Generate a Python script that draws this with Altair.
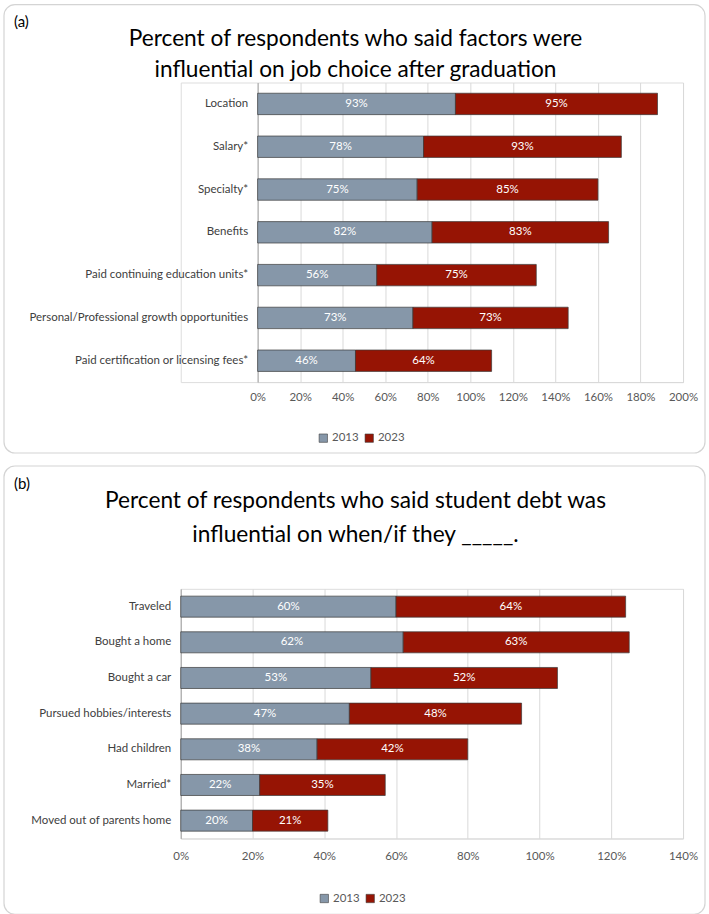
import altair as alt
import pandas as pd

FONT = "Lato"
YEARS = ["2013", "2023"]
COLORS = ["#8697a9", "#961404"]

# Panel (a): factors influencing job choice
factors = [
    "Location",
    "Salary*",
    "Specialty*",
    "Benefits",
    "Paid continuing education units*",
    "Personal/Professional growth opportunities",
    "Paid certification or licensing fees*",
]
factors_2013 = [93, 78, 75, 82, 56, 73, 46]
factors_2023 = [95, 93, 85, 83, 75, 73, 64]
title_a = ["Percent of respondents who said factors were",
           "influential on job choice after graduation"]

# Panel (b): decisions influenced by student debt
debt_items = [
    "Traveled",
    "Bought a home",
    "Bought a car",
    "Pursued hobbies/interests",
    "Had children",
    "Married*",
    "Moved out of parents home",
]
debt_2013 = [60, 62, 53, 47, 38, 22, 20]
debt_2023 = [64, 63, 52, 48, 42, 35, 21]
title_b = ["Percent of respondents who said student debt was",
           "influential on when/if they _____."]

# Both panels share one view origin; panel (a) starts its bars further right.
VIEW_W = 503


def long_table(cats, v2013, v2023):
    rows = []
    for c, a, b in zip(cats, v2013, v2023):
        rows.append({"item": c, "year": "2013", "pct": a})
        rows.append({"item": c, "year": "2023", "pct": b})
    return pd.DataFrame(rows)


def panel(tag, title_lines, cats, v2013, v2023, xmax, x_start, h, pad_inner,
          frame, tag_xy, title_y, legend_xy, tick_pad):
    df = long_table(cats, v2013, v2023)
    base = (
        alt.Chart(df)
        .transform_calculate(order="datum.year == '2013' ? 0 : 1")
        .transform_stack(
            stack="pct",
            groupby=["item"],
            as_=["x0", "x1"],
            sort=[alt.SortField(field="order", order="ascending")],
        )
        .transform_calculate(mid="(datum.x0 + datum.x1) / 2",
                             label="datum.pct + '%'")
    )
    xscale = alt.Scale(domain=[0, xmax], nice=False, zero=True,
                       range=[x_start, VIEW_W])
    yscale = alt.Scale(paddingInner=pad_inner, paddingOuter=pad_inner / 2)

    bars = base.mark_bar(stroke="#3a3a3a", strokeWidth=0.7).encode(
        x=alt.X(
            "x0:Q",
            scale=xscale,
            axis=alt.Axis(
                values=list(range(0, xmax + 1, 20)),
                labelExpr="datum.value + '%'",
                title=None,
                grid=True,
                gridColor="#d9d9d9",
                domainColor="#d9d9d9",
                ticks=False,
                labelPadding=tick_pad,
                labelFontSize=11.5,
                labelColor="#595959",
                labelFont=FONT,
                labelOverlap=False,
                labelFlush=False,
            ),
        ),
        x2="x1:Q",
        y=alt.Y(
            "item:N",
            sort=cats,
            scale=yscale,
            axis=alt.Axis(
                title=None,
                ticks=False,
                offset=-x_start,
                domainColor="#a6a6a6",
                labelPadding=10,
                labelFontSize=11.5,
                labelColor="#404040",
                labelFont=FONT,
                labelLimit=400,
            ),
        ),
        color=alt.Color(
            "year:N",
            scale=alt.Scale(domain=YEARS, range=COLORS),
            legend=alt.Legend(
                title=None,
                orient="none",
                direction="horizontal",
                legendX=legend_xy[0],
                legendY=legend_xy[1],
                symbolType="square",
                symbolSize=70,
                symbolStrokeColor="#404040",
                symbolStrokeWidth=0.6,
                symbolOpacity=1,
                labelFontSize=11.5,
                labelColor="#595959",
                labelFont=FONT,
                columnPadding=4,
                labelOffset=3,
            ),
        ),
    )

    labels = base.mark_text(
        color="white", fontSize=11.5, font=FONT, baseline="middle"
    ).encode(
        x=alt.X("mid:Q", scale=xscale),
        y=alt.Y("item:N", sort=cats, scale=yscale),
        text="label:N",
    )

    one = pd.DataFrame({"k": [0]})
    box = alt.Chart(one).mark_rect(
        fill="white", fillOpacity=0, stroke="#d4d4d4", strokeWidth=1.2,
        cornerRadius=11,
    ).encode(
        x=alt.value(frame[0]), x2=alt.value(frame[1]),
        y=alt.value(frame[2]), y2=alt.value(frame[3]),
    )
    tag_mark = alt.Chart(one).mark_text(
        text=tag, align="left", baseline="middle", fontSize=15, font=FONT,
        color="#000000",
    ).encode(x=alt.value(tag_xy[0]), y=alt.value(tag_xy[1]))

    heading = [
        alt.Chart(one).mark_text(
            text=line, align="center", baseline="middle", fontSize=22.7,
            font=FONT, color="#000000",
        ).encode(x=alt.value(175), y=alt.value(ty))
        for line, ty in zip(title_lines, title_y)
    ]

    return alt.layer(box, bars, labels, tag_mark, *heading).properties(
        width=VIEW_W, height=h
    )


panel_a = panel(
    "(a)", title_a, factors, factors_2013, factors_2023,
    xmax=200, x_start=77, h=300, pad_inner=0.5,
    frame=(-177, 525, -78, 371), tag_xy=(-167, -61),
    title_y=(-44, -13), legend_xy=(137, 350), tick_pad=9,
)

panel_b = panel(
    "(b)", title_b, debt_items, debt_2013, debt_2023,
    xmax=140, x_start=0, h=250, pad_inner=0.41,
    frame=(-177, 525, -123, 326), tag_xy=(-167, -105),
    title_y=(-88, -54), legend_xy=(138, 304), tick_pad=12,
)

chart = (
    alt.vconcat(panel_a, panel_b, spacing=9)
    .resolve_scale(color="independent")
    .resolve_legend(color="independent")
    .properties(padding={"left": 2, "top": 2, "right": 2, "bottom": 2})
    .configure_view(stroke=None)
    .configure(background="white")
)

chart.save("out.html", embed_options={"renderer": "svg", "actions": False})
